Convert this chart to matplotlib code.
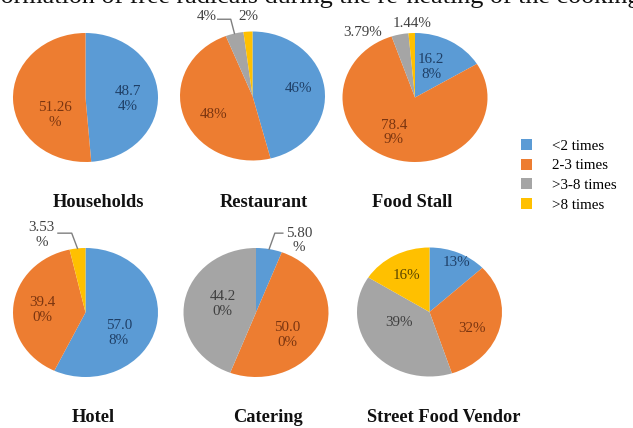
import numpy as np
import matplotlib
matplotlib.use('Agg')
import matplotlib.pyplot as plt
from matplotlib.patches import Patch

plt.rcParams['font.family'] = ['Liberation Serif', 'DejaVu Serif']

# ---------------- data ----------------
categories = ['<2 times', '2-3 times', '>3-8 times', '>8 times']
sectors = ['Households', 'Restaurant', 'Food Stall', 'Hotel', 'Catering', 'Street Food Vendor']

households = [48.74, 51.26, 0, 0]
restaurant = [46, 48, 4, 2]
food_stall = [16.28, 78.49, 3.79, 1.44]
hotel = [57.08, 39.40, 0, 3.53]
catering = [5.80, 50.00, 44.20, 0]
street_food_vendor = [13, 32, 39, 16]

households_labels = ['48.7\n4%', '51.26\n%', None, None]
restaurant_labels = ['46%', '48%', '4%', '2%']
food_stall_labels = ['16.2\n8%', '78.4\n9%', '3.79%', '1.44%']
hotel_labels = ['57.0\n8%', '39.4\n0%', None, '3.53\n%']
catering_labels = ['5.80\n%', '50.0\n0%', '44.2\n0%', None]
street_food_vendor_labels = ['13%', '32%', '39%', '16%']

title_text = 'Formation of free radicals during the re-heating of the cooking oil'

values = [households, restaurant, food_stall, hotel, catering, street_food_vendor]
labels = [households_labels, restaurant_labels, food_stall_labels,
          hotel_labels, catering_labels, street_food_vendor_labels]

# ---------------- style / layout ----------------
colors = ['#5B9BD5', '#ED7D31', '#A5A5A5', '#FFC000']
inner_label_colors = ['#1F3F66', '#7A3510', '#3F3F3F', '#5A4500']
outer_label_color = '#404040'

W, H = 633, 428
pie_w, pie_h = 145, 129
centers = [(85.5, 97.5), (252.5, 96), (415, 97.5),
           (85.5, 312.5), (256, 312.5), (429.5, 312)]
title_pos = [(98, 207), (263.5, 207), (412.5, 207),
             (93, 422), (267.5, 422), (444, 422)]

# label positions in normalised pie coordinates (x: semi-width, y: semi-height)
label_pos = [
    [(0.58, -0.02), (-0.42, -0.27), None, None],
    [(0.64, 0.12), (-0.54, -0.28), (-0.63, 1.23), (-0.06, 1.23)],
    [(0.22, 0.47), (-0.29, -0.54), (-0.72, 1.0), (-0.04, 1.155)],
    [(0.46, -0.32), (-0.60, 0.04), None, (-0.61, 1.20)],
    [(0.59, 1.12), (0.43, -0.35), (-0.46, 0.13), None],
    [(0.37, 0.76), (0.59, -0.25), (-0.42, -0.16), (-0.32, 0.57)],
]
# leader lines: (pie index, slice index, start, elbow) in normalised coords
leaders = [
    (1, 2, (-0.48, 1.19), (-0.30, 1.19)),
    (3, 3, (-0.38, 1.23), (-0.19, 1.23)),
    (4, 0, (0.37, 1.23), (0.26, 1.23)),
]

fig = plt.figure(figsize=(W / 100, H / 100), dpi=100)
fig.patch.set_facecolor('white')

# title, clipped by the top edge as in the source image
fig.text(330 / W, 1 - 3 / H, title_text, ha='center', va='baseline',
         fontsize=18.8, color='#111111')

axes = []
for i, (vals, labs) in enumerate(zip(values, labels)):
    cx, cy = centers[i]
    ax = fig.add_axes([(cx - pie_w / 2) / W, (H - cy - pie_h / 2) / H,
                       pie_w / W, pie_h / H])
    idx = [k for k, v in enumerate(vals) if v > 0]
    ax.pie([vals[k] for k in idx], colors=[colors[k] for k in idx],
           startangle=90, counterclock=False, radius=1,
           wedgeprops=dict(linewidth=0))
    ax.set_aspect('auto')
    ax.set_xlim(-1, 1)
    ax.set_ylim(-1, 1)
    ax.axis('off')
    for k, lab in enumerate(labs):
        if lab is None:
            continue
        x, y = label_pos[i][k]
        inside = x * x + y * y < 1
        ax.text(x, y, lab, ha='center', va='center', fontsize=10.8,
                color=inner_label_colors[k] if inside else outer_label_color,
                linespacing=1.15, clip_on=False)
    axes.append(ax)

    tx, ty = title_pos[i]
    fig.text(tx / W, 1 - ty / H, sectors[i], ha='center', va='baseline',
             fontsize=13.2, fontweight='bold', color='#111111')

# leader lines
for (pi, si, start, elbow) in leaders:
    vals = values[pi]
    total = float(sum(vals))
    before = sum(vals[:si])
    mid = 90 - 360 * (before + vals[si] / 2) / total
    ex, ey = np.cos(np.radians(mid)), np.sin(np.radians(mid))
    axes[pi].plot([start[0], elbow[0], ex], [start[1], elbow[1], ey],
                  color='#7F7F7F', lw=1, clip_on=False)

handles = [Patch(facecolor=c, edgecolor='none') for c in colors]
fig.legend(handles, categories, loc='upper left',
           bbox_to_anchor=(515 / W, 1 - 133 / H), frameon=False,
           fontsize=10.8, handlelength=0.75, handleheight=0.75,
           handletextpad=1.3, labelspacing=0.4, borderaxespad=0)

fig.savefig('out.png', dpi=100, facecolor='white')
